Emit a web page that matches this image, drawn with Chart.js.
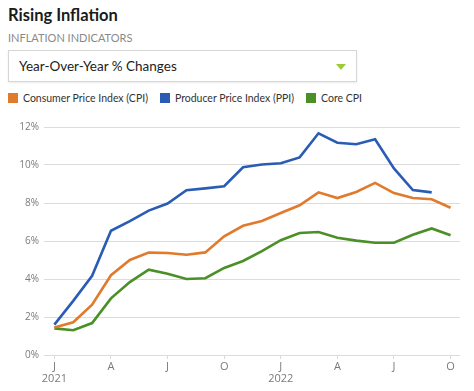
<!DOCTYPE html>
<html>
<head>
<meta charset="utf-8">
<script src="https://cdn.jsdelivr.net/npm/chart.js@4"></script>
<style>
  body { margin: 0; width: 474px; height: 391px; background: #fff; font-family: "Lato", "Open Sans", sans-serif; position: relative; overflow: hidden; }
  .title { position: absolute; left: 8px; top: 5px; font-size: 16.5px; font-weight: 700; color: #1a1a1a; }
  .subtitle { position: absolute; left: 8px; top: 31px; font-size: 11px; color: #8a8a8a; }
  .select { position: absolute; left: 8px; top: 50px; width: 347px; height: 30px; border: 1px solid #d6d6d6; box-shadow: 0 1px 2px rgba(0,0,0,0.08); box-sizing: content-box; }
  .select span { position: absolute; left: 10px; top: 7px; font-size: 13.5px; color: #222; }
  .select i { position: absolute; right: 10px; top: 13px; width: 0; height: 0; border-left: 5px solid transparent; border-right: 5px solid transparent; border-top: 6px solid #9ccc34; }
  #legend { position: absolute; left: 8px; top: 92px; font-size: 10.5px; color: #333; white-space: nowrap; }
  #legend .item { display: inline-block; margin-right: 12px; }
  #legend .box { display: inline-block; width: 10px; height: 10px; vertical-align: -1px; margin-right: 5px; }
  .wrap { position: absolute; left: 0; top: 110px; width: 474px; height: 281px; }
</style>
</head>
<body>
<div class="title">Rising Inflation</div>
<div class="subtitle">INFLATION INDICATORS</div>
<div class="select"><span>Year-Over-Year % Changes</span><i></i></div>
<div id="legend"></div>
<div class="wrap"><canvas id="inflationChart"></canvas></div>
<script>
// Jan 2021 .. Oct 2022, monthly year-over-year % change
const MONTHS = ["J", "F", "M", "A", "M", "J", "J", "A", "S", "O", "N", "D",
                "J", "F", "M", "A", "M", "J", "J", "A", "S", "O"];
const YEARS = { 0: "2021", 12: "2022" };

const CPI = [1.45, 1.72, 2.65, 4.2, 5.0, 5.39, 5.37, 5.28, 5.4, 6.25, 6.8, 7.05,
             7.47, 7.88, 8.56, 8.26, 8.58, 9.06, 8.52, 8.26, 8.2, 7.75];
const PPI = [1.6, 2.85, 4.17, 6.54, 7.05, 7.6, 7.97, 8.67, 8.77, 8.88, 9.88, 10.03,
             10.09, 10.4, 11.67, 11.17, 11.09, 11.35, 9.82, 8.68, 8.56, null];
const CORE = [1.4, 1.3, 1.68, 2.98, 3.84, 4.49, 4.28, 4.0, 4.04, 4.58, 4.95, 5.47,
              6.04, 6.42, 6.47, 6.17, 6.02, 5.91, 5.91, 6.33, 6.66, 6.3];

const SERIES = [
  { label: "Consumer Price Index (CPI)", data: CPI, color: "#e07a2c" },
  { label: "Producer Price Index (PPI)", data: PPI, color: "#2a5cb5" },
  { label: "Core CPI", data: CORE, color: "#4b8f27" },
];

const Y_TICKS = [0, 2, 4, 6, 8, 10, 12];
const X_TICKS = [0, 3, 6, 9, 12, 15, 18, 21];

function renderLegend() {
  document.getElementById("legend").innerHTML = SERIES.map((s) =>
    `<span class="item"><span class="box" style="background:${s.color}"></span>${s.label}</span>`
  ).join("");
}

function renderChart() {
  const ctx = document.getElementById("inflationChart");
  new Chart(ctx, {
    type: "line",
    data: {
      datasets: SERIES.map((s) => ({
        label: s.label,
        data: s.data.map((v, i) => ({ x: i, y: v })),
        borderColor: s.color,
        backgroundColor: s.color,
        borderWidth: 2.6,
        pointRadius: 0,
        tension: 0,
        spanGaps: false,
      })),
    },
    options: {
      responsive: true,
      maintainAspectRatio: false,
      animation: false,
      layout: { padding: { top: 17, right: 14, left: 0, bottom: 0 } },
      plugins: { legend: { display: false }, tooltip: { enabled: false } },
      scales: {
        x: {
          type: "linear",
          min: -0.55,
          max: 21.5,
          border: { display: false },
          afterBuildTicks: (scale) => { scale.ticks = X_TICKS.map((v) => ({ value: v })); },
          afterFit: (scale) => { scale.height = 36; },
          grid: { drawOnChartArea: false, drawTicks: true, tickLength: 4, color: "#d9d9d9" },
          ticks: {
            autoSkip: false,
            maxRotation: 0,
            padding: 2,
            color: "#7a7a7a",
            font: { family: "Open Sans", size: 11, lineHeight: 1.1 },
            callback: (v) => (YEARS[v] ? [MONTHS[v], YEARS[v]] : MONTHS[v]),
          },
        },
        y: {
          min: 0,
          max: 12,
          border: { display: false },
          afterBuildTicks: (scale) => { scale.ticks = Y_TICKS.map((v) => ({ value: v })); },
          afterFit: (scale) => { scale.width = 44; },
          grid: { color: "#dcdcdc", drawTicks: false, lineWidth: 1 },
          ticks: {
            padding: 5,
            color: "#7a7a7a",
            font: { family: "Open Sans", size: 10 },
            callback: (v) => v + "%",
          },
        },
      },
    },
  });
}

renderLegend();
renderChart();
</script>
</body>
</html>
